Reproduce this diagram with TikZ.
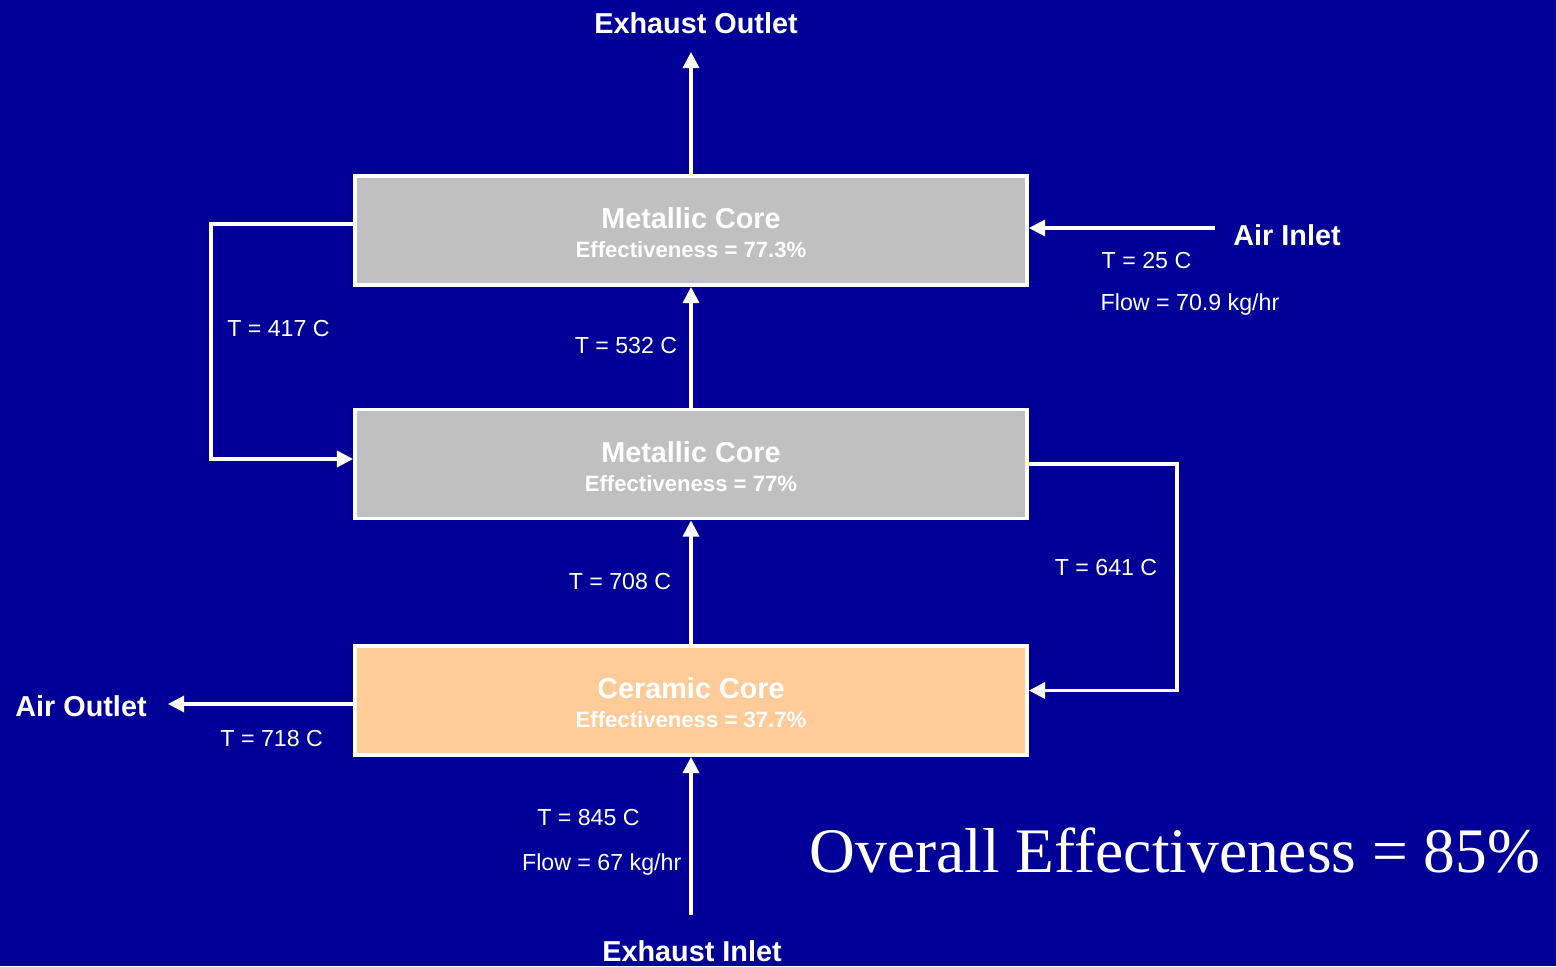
\documentclass[tikz,border=0pt]{standalone}
\usepackage{fontspec}
\setmainfont{Liberation Sans}
\newfontfamily\timesfont{Liberation Serif}
\usetikzlibrary{arrows.meta}
\definecolor{slidebg}{HTML}{000099}
\definecolor{metal}{HTML}{C0C0C0}
\definecolor{ceramic}{HTML}{FFCC99}
\newcommand{\coretext}[2]{{\fontsize{8.2}{8.3}\selectfont\rule{0pt}{7.4pt}#1}\\#2}

\begin{document}
\begin{tikzpicture}[
  core/.style={draw=white,line width=1.1pt,minimum width=6.72cm,minimum height=1.09cm,
    text=white,font=\bfseries\fontsize{6.3}{8.3}\selectfont,align=center,inner sep=0pt},
  flow/.style={draw=white,line width=0.9pt,-{Triangle[length=4.6pt,width=4.6pt]}},
  port/.style={text=white,font=\bfseries\fontsize{8.2}{10}\selectfont,anchor=base,inner sep=0pt},
  temp/.style={text=white,font=\fontsize{6.6}{8}\selectfont,anchor=base,inner sep=0pt}]
  \fill[slidebg] (0,0) rectangle (15.56,9.66);
  % the three cores
  \node[core,fill=metal] (top) at (6.91,7.355) {\coretext{Metallic Core}{Effectiveness = 77.3\%}};
  \node[core,fill=metal] (mid) at (6.91,5.02) {\coretext{Metallic Core}{Effectiveness = 77\%}};
  \node[core,fill=ceramic] (bot) at (6.91,2.655) {\coretext{Ceramic Core}{Effectiveness = 37.7\%}};
  % exhaust side, bottom to top
  \coordinate (exin) at (6.91,0.51);
  \coordinate (exout) at (6.91,9.14);
  \draw[flow] (exin) -- (bot);
  \draw[flow] (bot) -- (mid);
  \draw[flow] (mid) -- (top);
  \draw[flow] (top) -- (exout);
  % air side, top to bottom
  \coordinate (airin) at (12.15,7.38);
  \coordinate (airout) at (1.68,2.62);
  \draw[flow] (airin) -- (airin -| top.east);
  \draw[flow] ([yshift=0.065cm]top.west) -- ++(-1.42,0) |- ([yshift=0.05cm]mid.west);
  \draw[flow] (mid.east) -- ++(1.48,0) |- ([yshift=0.1cm]bot.east);
  \draw[flow] (airout -| bot.west) -- (airout);
  % ports
  \node[port] (exoutlbl) at (6.96,9.327) {Exhaust Outlet};
  \node[port] (exinlbl) at (6.92,0.043) {Exhaust Inlet};
  \node[port] (airinlbl) at (12.87,7.21) {Air Inlet};
  \node[port] (airoutlbl) at (0.81,2.50) {Air Outlet};
  % temperatures and flows
  \node[temp] (t25) at (11.465,6.977) {T = 25 C};
  \node[temp] (fair) at (11.90,6.56) {Flow = 70.9 kg/hr};
  \node[temp] (t417) at (2.785,6.293) {T = 417 C};
  \node[temp] (t532) at (6.26,6.127) {T = 532 C};
  \node[temp] (t708) at (6.20,3.77) {T = 708 C};
  \node[temp] (t641) at (11.06,3.91) {T = 641 C};
  \node[temp] (t718) at (2.717,2.20) {T = 718 C};
  \node[temp] (t845) at (5.885,1.41) {T = 845 C};
  \node[temp] (fex) at (6.017,0.953) {Flow = 67 kg/hr};
  \node[text=white,font=\timesfont\fontsize{18.05}{22}\selectfont,anchor=base,inner sep=0pt] (overall) at (11.75,0.94) {Overall Effectiveness = 85\%};
\end{tikzpicture}
\end{document}
